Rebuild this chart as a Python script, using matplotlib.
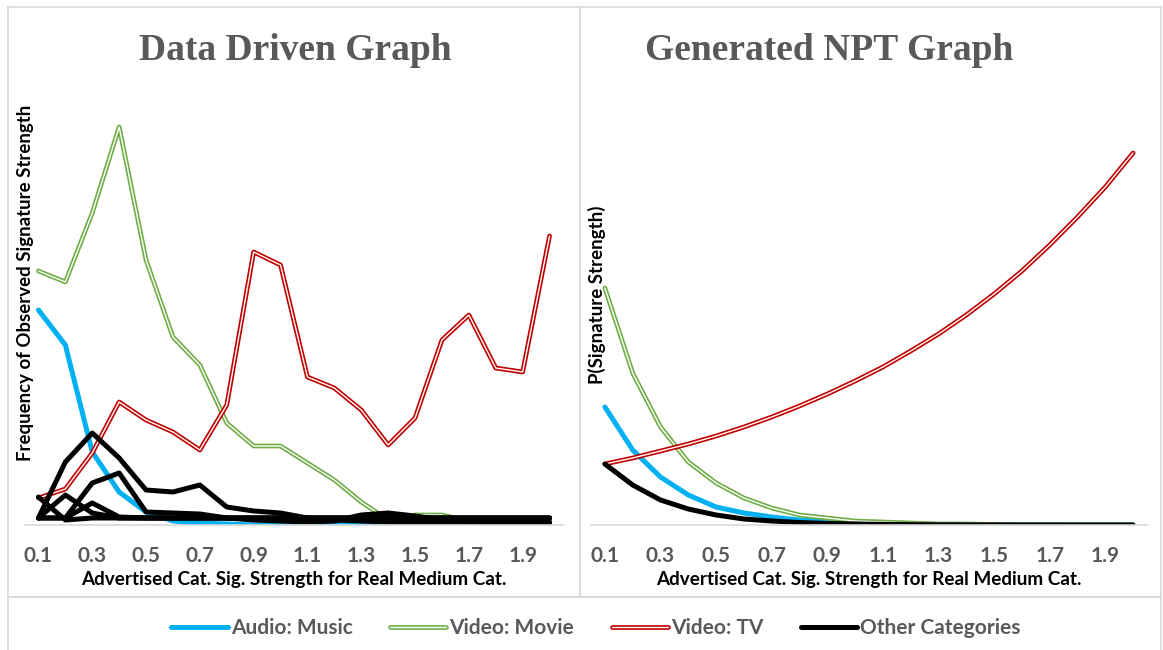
#!/usr/bin/env python3

# two panel chart: observed signature strength vs generated NPT curves.

import matplotlib
matplotlib.use('Agg')
from matplotlib import pyplot as plt
from matplotlib import patheffects as pe
from matplotlib.lines import Line2D

W, H = 1163, 650

categories = ['0.1', '0.2', '0.3', '0.4', '0.5', '0.6', '0.7', '0.8', '0.9', '1.0',
              '1.1', '1.2', '1.3', '1.4', '1.5', '1.6', '1.7', '1.8', '1.9', '2.0']
tick_labels = ['0.1', '0.3', '0.5', '0.7', '0.9', '1.1', '1.3', '1.5', '1.7', '1.9']

# left panel: observed frequencies (arbitrary units)
obs_music = [215, 180, 73, 33, 13, 4, 2, 1, 0, 0, 0, 0, 0, 0, 0, 0, 0, 0, 0, 2]
obs_movie = [254, 243, 312, 398, 265, 188, 160, 102, 79, 79, 62, 45, 23, 5, 10, 10, 4, 4, 5, 6]
obs_tv = [27, 36, 72, 123, 105, 93, 75, 120, 273, 260, 148, 137, 115, 80, 107, 185, 210, 157, 153, 289]
obs_other = [
    [7, 63, 92, 67, 35, 33, 40, 18, 14, 12, 7, 5, 4, 3, 3, 3, 3, 3, 3, 3],
    [7, 7, 42, 52, 13, 12, 11, 7, 5, 4, 3, 4, 10, 12, 9, 5, 3, 2, 2, 2],
    [28, 5, 7, 7, 7, 7, 7, 7, 7, 7, 7, 7, 7, 7, 7, 7, 7, 7, 7, 7],
    [7, 30, 12, 7, 7, 7, 7, 7, 7, 7, 7, 7, 7, 7, 7, 7, 7, 7, 7, 7],
    [7, 7, 22, 8, 7, 7, 7, 7, 7, 7, 7, 7, 7, 7, 7, 7, 7, 7, 7, 7],
]

# right panel: generated NPT probabilities (arbitrary units)
npt_music = [118, 75, 48, 30, 18, 12, 8, 5, 3, 2, 1, 1, 0.5, 0.3, 0.2, 0.1, 0.1, 0, 0, 0]
npt_movie = [237, 152, 98, 63, 42, 27, 17, 10, 7, 4, 3, 2, 1, 1, 0.5, 0.3, 0.2, 0.1, 0.1, 0.1]
npt_tv = [61, 67, 74, 81, 89, 98, 108, 119, 131, 144, 158, 174, 191, 210, 231, 254, 280, 308, 338, 372]
npt_other = [61, 40, 25, 16, 10, 6, 4, 2.5, 1.5, 1, 0.6, 0.4, 0.2, 0.1, 0.1, 0, 0, 0, 0, 0]

BLUE = '#00B0F0'
GREEN = '#70AD47'
RED = '#C00000'
GRAY = '#595959'
BORDER = '#D9D9D9'

plt.rcParams['font.family'] = ['Lato', 'DejaVu Sans']

fig = plt.figure(figsize=(W / 100, H / 100), dpi=100)


def box(x0, y0, x1, y1):
    """Draws a light border rectangle in pixel coordinates (y from top). """
    for xs, ys in [((x0, x1), (y0, y0)), ((x0, x1), (y1, y1)),
                   ((x0, x0), (y0, y1)), ((x1, x1), (y0, y1))]:
        fig.add_artist(Line2D([x / W for x in xs], [1 - y / H for y in ys],
                              color=BORDER, lw=1.2))


box(8, 7, 580, 597)
box(580, 7, 1161, 597)
box(8, 597, 1161, 660)


def solid(ax, y, color):
    return ax.plot(range(len(y)), y, color=color, lw=3.6, solid_capstyle='round',
                   solid_joinstyle='round')[0]


def double(ax, y, color):
    return ax.plot(range(len(y)), y, color='white', lw=1.0, solid_capstyle='round',
                   path_effects=[pe.Stroke(linewidth=3.4, foreground=color), pe.Normal()])[0]


def setup(ax):
    ax.set_xlim(-0.5, len(categories) - 0.5)
    ax.set_ylim(0, 425)
    for s in ['top', 'right', 'left']:
        ax.spines[s].set_visible(False)
    ax.spines['bottom'].set_color(BORDER)
    ax.spines['bottom'].set_linewidth(1.2)
    ax.set_yticks([])
    ax.set_xticks([categories.index(t) for t in tick_labels])
    ax.set_xticklabels(tick_labels, fontsize=15, fontweight='bold', color=GRAY)
    ax.tick_params(axis='x', length=0, pad=15)
    ax.patch.set_alpha(0)


axL = fig.add_axes([25 / W, 1 - 525 / H, 538 / W, 425 / H])
setup(axL)
h_music = solid(axL, obs_music, BLUE)
h_movie = double(axL, obs_movie, GREEN)
h_tv = double(axL, obs_tv, RED)
for y in obs_other:
    h_other = solid(axL, y, 'black')

axR = fig.add_axes([591 / W, 1 - 525 / H, 556 / W, 425 / H])
setup(axR)
solid(axR, npt_music, BLUE)
double(axR, npt_movie, GREEN)
double(axR, npt_tv, RED)
solid(axR, npt_other, 'black')

# titles and axis labels
fig.text(295 / W, 1 - 50 / H, 'Data Driven Graph', ha='center', va='center',
         family='Liberation Serif', fontweight='bold', fontsize=27, color=GRAY)
fig.text(829 / W, 1 - 50 / H, 'Generated NPT Graph', ha='center', va='center',
         family='Liberation Serif', fontweight='bold', fontsize=27, color=GRAY)
fig.text(294 / W, 1 - 579 / H, 'Advertised Cat. Sig. Strength for Real Medium Cat.',
         ha='center', va='center', fontsize=13.6, fontweight='bold', color='black')
fig.text(869 / W, 1 - 579 / H, 'Advertised Cat. Sig. Strength for Real Medium Cat.',
         ha='center', va='center', fontsize=13.6, fontweight='bold', color='black')
fig.text(26 / W, 1 - 283 / H, 'Frequency of Observed Signature Strength', rotation=90,
         ha='center', va='center', fontsize=13.4, fontweight='bold', color='black')
fig.text(597 / W, 1 - 295 / H, 'P(Signature Strength)', rotation=90,
         ha='center', va='center', fontsize=13.5, fontweight='bold', color='black')

leg = fig.legend([h_music, h_movie, h_tv, h_other],
                 ['Audio: Music', 'Video: Movie', 'Video: TV', 'Other Categories'],
                 loc='center', bbox_to_anchor=(596 / W, 1 - 628 / H), ncol=4,
                 frameon=False, handlelength=2.7, handletextpad=0.15, columnspacing=1.8,
                 prop={'size': 15, 'weight': 'bold'})
for t in leg.get_texts():
    t.set_color(GRAY)
    t.set_fontweight('bold')

fig.savefig('out.png', dpi=100)
